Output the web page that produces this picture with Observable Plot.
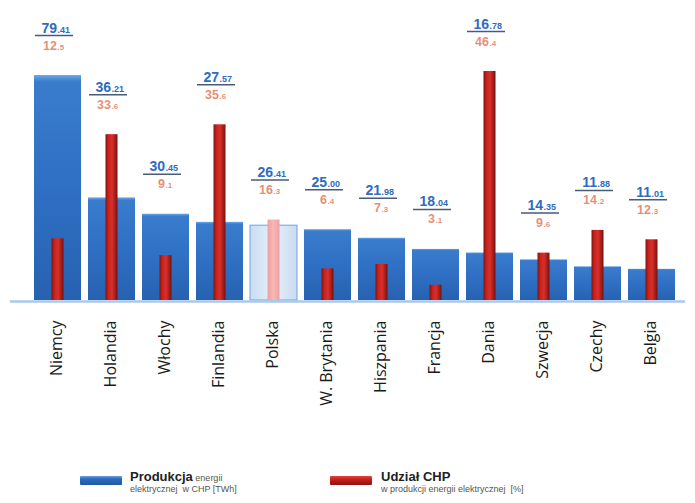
<!DOCTYPE html>
<html>
<head>
<meta charset="utf-8">
<script src="https://cdn.jsdelivr.net/npm/d3@7"></script>
<script src="https://cdn.jsdelivr.net/npm/@observablehq/plot@0.6"></script>
<style>
  html, body { margin: 0; padding: 0; background: #fff; }
  #wrap { position: relative; width: 695px; height: 503px; overflow: hidden; background: #fff; }
  #legend { position: absolute; left: 0; top: 468px; width: 695px; height: 35px; font-family: "Liberation Sans", Arial, sans-serif; }
  .sw { position: absolute; width: 42px; height: 9px; border-radius: 1px; }
  .lt { position: absolute; color: #555; font-size: 9px; line-height: 11px; white-space: nowrap; }
  .lt b { color: #222; font-size: 13px; }
</style>
</head>
<body>
<div id="wrap">
  <div id="chart"></div>
  <div id="legend">
    <div class="sw" style="left:80px;top:8px;background:linear-gradient(#6aa3e2,#2d6cc0 30%,#22599f);"></div>
    <div class="lt" style="left:130px;top:3px;"><b>Produkcja</b> energii<br>elektrycznej&nbsp; w CHP [TWh]</div>
    <div class="sw" style="left:330px;top:8px;background:linear-gradient(#e0463e,#c41f1a 40%,#8e1210);"></div>
    <div class="lt" style="left:381px;top:3px;"><b>Udział CHP</b><br>w produkcji energii elektrycznej&nbsp; [%]</div>
  </div>
</div>
<script>
const countries = ["Niemcy","Holandia","Włochy","Finlandia","Polska","W. Brytania","Hiszpania","Francja","Dania","Szwecja","Czechy","Belgia"];
const production = [79.41, 36.21, 30.45, 27.57, 26.41, 25.00, 21.98, 18.04, 16.78, 14.35, 11.88, 11.01];
const chpShare = [12.5, 33.6, 9.1, 35.6, 16.3, 6.4, 7.3, 3.1, 46.4, 9.6, 14.2, 12.3];
const highlighted = "Polska";

// red series drawn on its own (secondary) scale: 1 % ≈ K units of the primary axis
const K = 1.742;

const data = countries.map((c, i) => ({
  country: c,
  prod: production[i],
  share: chpShare[i],
  shareY: chpShare[i] * K,
  top: Math.max(production[i], chpShare[i] * K),
  pInt: production[i].toFixed(2).split(".")[0],
  pDec: "." + production[i].toFixed(2).split(".")[1],
  sInt: chpShare[i].toFixed(1).split(".")[0],
  sDec: "." + chpShare[i].toFixed(1).split(".")[1],
  hl: c === highlighted
}));

const blueText = "#2d6cc0";
const redText = "#e2795c";

const plot = Plot.plot({
  width: 695,
  height: 440,
  marginTop: 16.7,
  marginBottom: 140,
  marginLeft: 10,
  marginRight: 10,
  style: { fontFamily: "'Liberation Sans', Arial, sans-serif", background: "transparent" },
  x: { domain: countries, range: [30.5, 678.5], paddingInner: 0.13, paddingOuter: 0.065, axis: null },
  y: { domain: [0, 100], range: [300, 16.7], axis: null },
  marks: [
    Plot.barY(data, { x: "country", y: "prod", fill: d => d.hl ? "url(#gBlueHl)" : "url(#gBlue)", stroke: d => d.hl ? "#6fa3dc" : "none", strokeWidth: 1 }),
    Plot.barY(data, { x: "country", y: "shareY", fill: d => d.hl ? "url(#gRedHl)" : "url(#gRed)", insetLeft: 17.5, insetRight: 17.5 }),
    Plot.ruleY([0], { stroke: "#a9c9ec", strokeWidth: 2.5, dy: 1 }),
    // value labels
    Plot.text(data, { x: "country", y: "top", text: "pInt", dy: -43, dx: -1, textAnchor: "end", lineAnchor: "bottom", fontSize: 14, fontWeight: "bold", fill: blueText }),
    Plot.text(data, { x: "country", y: "top", text: "pDec", dy: -43, dx: -0.5, textAnchor: "start", lineAnchor: "bottom", fontSize: 9, fontWeight: "bold", fill: blueText }),
    Plot.tickY(data, { x: "country", y: "top", dy: -40, stroke: "#4a5a78", strokeWidth: 1.5, insetLeft: 1, insetRight: 8 }),
    Plot.text(data, { x: "country", y: "top", text: "sInt", dy: -26, dx: -1, textAnchor: "end", lineAnchor: "bottom", fontSize: 12.5, fontWeight: "bold", fill: redText, fillOpacity: 0.85 }),
    Plot.text(data, { x: "country", y: "top", text: "sDec", dy: -26, dx: -0.5, textAnchor: "start", lineAnchor: "bottom", fontSize: 8, fontWeight: "bold", fill: redText, fillOpacity: 0.85 }),
    // category labels
    Plot.text(data, { x: "country", y: 0, text: "country", rotate: -90, textAnchor: "end", lineAnchor: "middle", dy: 20, dx: -1, fontSize: 16, fontFamily: "'Open Sans', sans-serif", fill: "#1a1a1a" })
  ]
});

const ns = "http://www.w3.org/2000/svg";
const defs = document.createElementNS(ns, "defs");
defs.innerHTML = `
  <linearGradient id="gBlue" x1="0" y1="0" x2="0" y2="1">
    <stop offset="0" stop-color="#6aa5e6"/>
    <stop offset="0.03" stop-color="#3a7ccc"/>
    <stop offset="0.5" stop-color="#2f6fc4"/>
    <stop offset="1" stop-color="#2762b0"/>
  </linearGradient>
  <linearGradient id="gBlueHl" x1="0" y1="0" x2="1" y2="0">
    <stop offset="0" stop-color="#c9dcf2"/>
    <stop offset="0.5" stop-color="#e6f0fa"/>
    <stop offset="1" stop-color="#c9dcf2"/>
  </linearGradient>
  <linearGradient id="gRed" x1="0" y1="0" x2="1" y2="0">
    <stop offset="0" stop-color="#7c1512"/>
    <stop offset="0.25" stop-color="#c9221d"/>
    <stop offset="0.55" stop-color="#d8302a"/>
    <stop offset="1" stop-color="#741210"/>
  </linearGradient>
  <linearGradient id="gRedHl" x1="0" y1="0" x2="1" y2="0">
    <stop offset="0" stop-color="#eea0a0"/>
    <stop offset="0.5" stop-color="#f7b8b6"/>
    <stop offset="1" stop-color="#eea0a0"/>
  </linearGradient>`;
plot.insertBefore(defs, plot.firstChild);
document.getElementById("chart").appendChild(plot);
</script>
</body>
</html>
